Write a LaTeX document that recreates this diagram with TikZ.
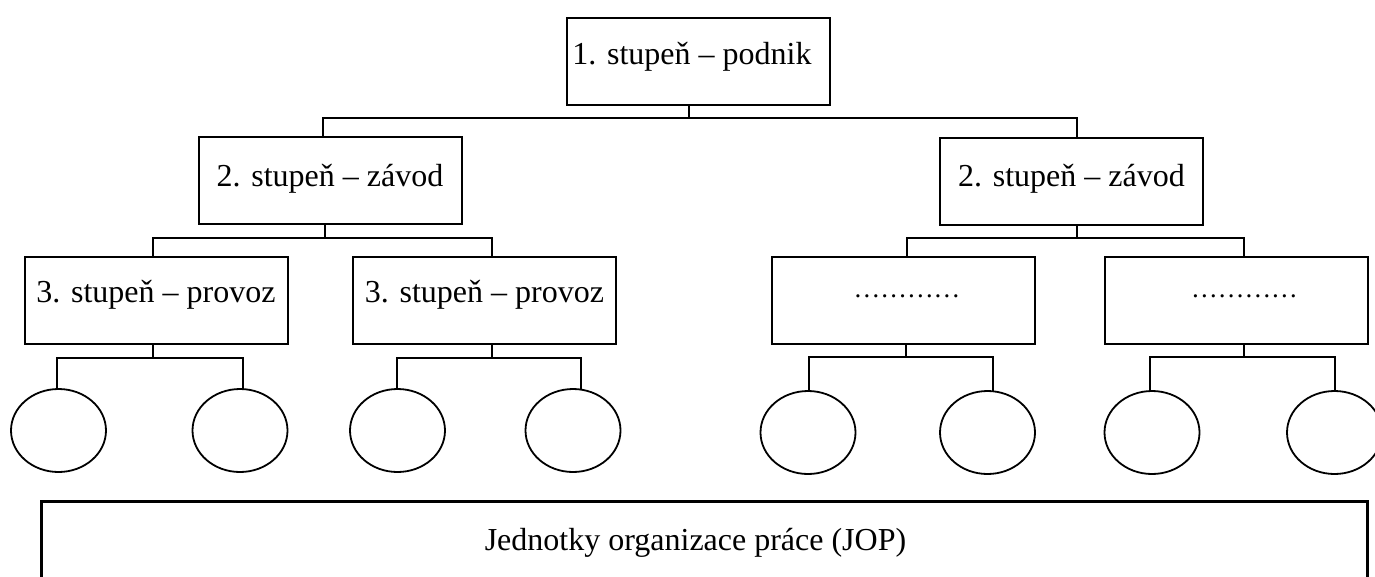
\documentclass[tikz,border=0pt]{standalone}
\usepackage{fontspec}
\setmainfont{Liberation Serif}
\usetikzlibrary{shapes.geometric}

\tikzset{
  txt/.style={font=\fontsize{32}{38}\selectfont},
  unit/.style={draw, line width=2pt, minimum width=263pt, minimum height=87pt,
    inner sep=0pt, txt},
  lvlone/.style={unit, text height=20pt, text depth=14pt},
  lvltwo/.style={unit, text height=22pt, text depth=11.5pt},
  lvlthree/.style={unit, text height=20pt, text depth=17pt},
  dotbox/.style={unit, font=\fontsize{26.7}{30}\selectfont, text height=3pt, text depth=9pt},
  wp/.style={draw, ellipse, line width=1.8pt, minimum width=95pt, minimum height=83pt, inner sep=0pt},
  jop/.style={draw, line width=3pt, minimum width=1326pt, minimum height=100pt,
    inner sep=0pt, txt, text height=18pt, text depth=20pt},
  link/.style={draw, line width=2pt, line cap=rect},
}

\begin{document}
\begin{tikzpicture}[x=1pt, y=-1pt]
  \useasboundingbox (0,0) rectangle (1375,576);
  \clip (0,0) rectangle (1375,576);

  % level 1
  \node[lvlone] (podnik) at (698,61) {1. stupeň – podnik\hspace*{12pt}};

  % level 2
  \node[lvltwo] (zavodL) at (330,180.75) {2. stupeň – závod};
  \node[lvltwo] (zavodR) at (1071.5,181) {2. stupeň – závod};

  % level 3
  \node[lvlthree] (provA) at (156,300.5) {3. stupeň – provoz};
  \node[lvlthree] (provB) at (484.5,300.5) {3. stupeň – provoz};
  \node[dotbox] (provC) at (903.5,300.5) {\hspace*{7pt}…………};
  \node[dotbox] (provD) at (1236.5,300.5) {\hspace*{16pt}…………};

  % work places
  \node[wp] (e1) at (58.5,430.5) {};
  \node[wp] (e2) at (240,430.5) {};
  \node[wp] (e3) at (397.5,430.5) {};
  \node[wp] (e4) at (573,430.5) {};
  \node[wp] (e5) at (808,432.5) {};
  \node[wp] (e6) at (987.5,432.5) {};
  \node[wp] (e7) at (1152,432.5) {};
  \node[wp] (e8) at (1334.5,432.5) {};

  % units of work organisation
  \node[jop] (jop) at (704,551) {Jednotky organizace práce (JOP)\hspace*{17pt}};

  % junction points
  \coordinate (s1) at (689,118);
  \coordinate (t1) at (323,118);
  \coordinate (t2) at (1077,118);

  \coordinate (s2L) at (325,238);
  \coordinate (u1) at (153,238);
  \coordinate (u2) at (492,238);
  \coordinate (s2R) at (1077,238);
  \coordinate (u3) at (907,238);
  \coordinate (u4) at (1244,238);

  \coordinate (sA) at (153,358);
  \coordinate (vA1) at (57,358);
  \coordinate (vA2) at (243,358);
  \coordinate (sB) at (492,358);
  \coordinate (vB1) at (397,358);
  \coordinate (vB2) at (581,358);
  \coordinate (sC) at (906,357);
  \coordinate (vC1) at (809,357);
  \coordinate (vC2) at (993,357);
  \coordinate (sD) at (1244,357);
  \coordinate (vD1) at (1150,357);
  \coordinate (vD2) at (1335,357);

  % level 1 -> level 2
  \draw[link] (podnik.south -| s1) -- (s1);
  \draw[link] (zavodL.north -| t1) |- (t2) -- (zavodR.north -| t2);

  % level 2 -> level 3
  \draw[link] (zavodL.south -| s2L) -- (s2L);
  \draw[link] (provA.north -| u1) |- (u2) -- (provB.north -| u2);
  \draw[link] (zavodR.south -| s2R) -- (s2R);
  \draw[link] (provC.north -| u3) |- (u4) -- (provD.north -| u4);

  % level 3 -> work places
  \draw[link] (provA.south -| sA) -- (sA);
  \draw[link] (e1.north -| vA1) |- (vA2) -- (e2.north -| vA2);
  \draw[link] (provB.south -| sB) -- (sB);
  \draw[link] (e3.north -| vB1) |- (vB2) -- (e4.north -| vB2);
  \draw[link] (provC.south -| sC) -- (sC);
  \draw[link] (e5.north -| vC1) |- (vC2) -- (e6.north -| vC2);
  \draw[link] (provD.south -| sD) -- (sD);
  \draw[link] (e7.north -| vD1) |- (vD2) -- (e8.north -| vD2);
\end{tikzpicture}
\end{document}
